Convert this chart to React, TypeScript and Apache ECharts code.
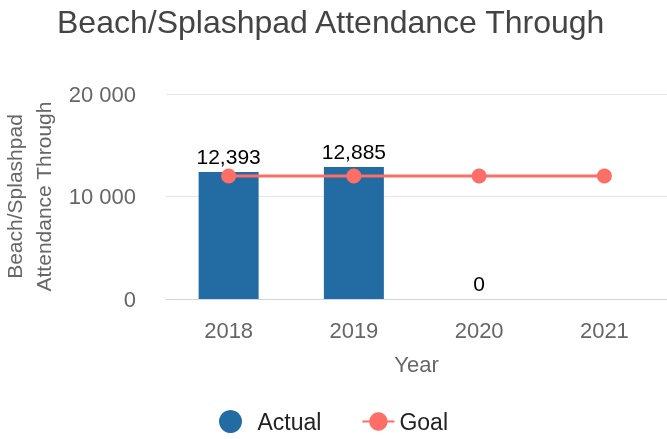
import React, { useEffect, useRef } from "react";
import * as echarts from "echarts";

const categories = ["2018", "2019", "2020", "2021"];
const actual: (number | null)[] = [12393, 12885, 0, null];
const goal = [12000, 12000, 12000, 12000];
const yTicks = [0, 10000, 20000];

const FONT = "'Liberation Sans', Arial, Helvetica, sans-serif";

export default function App() {
  const ref = useRef<HTMLDivElement>(null);
  useEffect(() => {
    const chart = echarts.init(ref.current!, null, { renderer: "svg" });
    chart.setOption({
      animation: false,
      textStyle: { fontFamily: FONT },
      title: {
        text: "Beach/Splashpad Attendance Through",
        left: 52,
        top: 1,
        textStyle: { fontSize: 32, fontWeight: "normal", color: "#444444", fontFamily: FONT },
      },
      legend: {
        top: 405,
        left: "center",
        itemGap: 40,
        itemWidth: 32,
        itemHeight: 23,
        textStyle: { fontSize: 23, color: "#222222", fontFamily: FONT },
        data: [
          { name: "Actual", icon: "circle", textStyle: { padding: [0, 0, 0, 6] } },
          { name: "Goal" },
        ],
      },
      grid: { left: 166, right: 0, top: 94, bottom: 140, outerBoundsMode: "none", containLabel: false },
      xAxis: {
        type: "category",
        data: categories,
        name: "Year",
        nameLocation: "middle",
        nameGap: 54,
        nameTextStyle: { fontSize: 22, color: "#666666" },
        axisTick: { show: false },
        axisLine: { lineStyle: { color: "#ccd6eb", width: 1 } },
        axisLabel: { fontSize: 22, color: "#666666", margin: 20 },
      },
      yAxis: {
        type: "value",
        min: 0,
        max: 20000,
        interval: 10000,
        name: "Beach/Splashpad\nAttendance Through",
        nameLocation: "middle",
        nameGap: 104,
        nameRotate: 90,
        nameTextStyle: { fontSize: 21, color: "#666666", lineHeight: 29 },
        axisLine: { show: false },
        axisTick: { show: false },
        splitLine: { lineStyle: { color: "#e6e6e6", width: 1 } },
        axisLabel: {
          fontSize: 22,
          color: "#666666",
          margin: 30,
          formatter: (v: number) =>
            yTicks.includes(v) ? String(v).replace(/\B(?=(\d{3})+(?!\d))/g, " ") : "",
        },
      },
      series: [
        {
          name: "Actual",
          type: "bar",
          data: actual,
          barWidth: 60,
          itemStyle: { color: "#236ba3" },
          label: {
            show: true,
            position: "top",
            distance: 5,
            fontSize: 21,
            color: "#000000",
            formatter: (p: any) => p.value.toLocaleString("en-US"),
          },
        },
        {
          name: "Goal",
          type: "line",
          data: goal,
          symbol: "circle",
          symbolSize: 15,
          itemStyle: { color: "#fd6e67" },
          lineStyle: { color: "#fd6e67", width: 3 },
        },
      ],
    });
    return () => chart.dispose();
  }, []);
  return (
    <div
      ref={ref}
      style={{ position: "fixed", left: 0, top: 0, width: 667, height: 439 }}
    />
  );
}
